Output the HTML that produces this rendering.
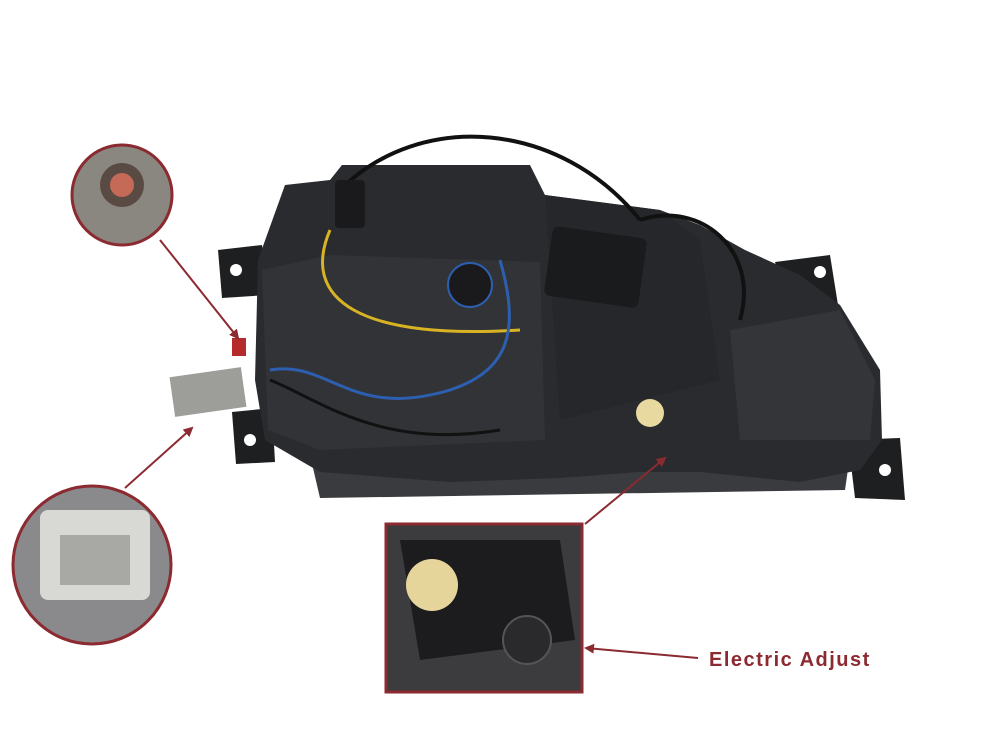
<!DOCTYPE html>
<html><head><meta charset="utf-8"><style>
html,body{margin:0;padding:0;background:#fff;width:1000px;height:750px;overflow:hidden}
svg{display:block}
</style></head><body>
<svg width="1000" height="750" viewBox="0 0 1000 750" xmlns="http://www.w3.org/2000/svg">
<defs>
<marker id="ah" markerWidth="10" markerHeight="10" refX="8" refY="5" orient="auto" markerUnits="userSpaceOnUse">
<path d="M0,0 L10,5 L0,10 z" fill="#8b2a30"/></marker>
<clipPath id="c1"><circle cx="122" cy="195" r="50"/></clipPath>
<clipPath id="c2"><circle cx="92" cy="565" r="79"/></clipPath>
</defs>
<rect width="1000" height="750" fill="#fff"/>
<path d="M218,250 L262,245 L268,295 L222,298 Z" fill="#1e1f21"/>
<circle cx="236" cy="270" r="6" fill="#fff"/>
<path d="M232,412 L272,408 L275,462 L236,464 Z" fill="#1e1f21"/>
<circle cx="250" cy="440" r="6" fill="#fff"/>
<path d="M775,262 L830,255 L838,305 L790,310 Z" fill="#1e1f21"/>
<circle cx="820" cy="272" r="6" fill="#fff"/>
<path d="M848,440 L900,438 L905,500 L855,498 Z" fill="#1e1f21"/>
<circle cx="885" cy="470" r="6" fill="#fff"/>
<path d="M310,455 L850,455 L845,490 L320,498 Z" fill="#3a3b3e"/>
<path d="M258,260 L285,185 L330,180 L342,165 L530,165 L545,195 L660,210 L700,225 L745,250 L800,275 L840,305 L880,370 L882,440 L860,470 L800,482 L700,472 L640,472 L560,478 L450,482 L320,472 L265,440 L255,380 Z" fill="#2a2b2e"/>
<path d="M262,270 L330,255 L540,262 L545,440 L320,450 L268,430 Z" fill="#323337"/>
<path d="M545,195 L660,210 L700,240 L720,380 L560,420 Z" fill="#26272a"/>
<path d="M730,330 L840,310 L875,380 L870,440 L740,440 Z" fill="#343538"/>
<rect x="548" y="232" width="95" height="70" rx="6" fill="#1a1b1d" transform="rotate(8 595 267)"/>
<path d="M340,190 C420,110 560,120 640,220" stroke="#111" stroke-width="4" fill="none"/>
<path d="M640,220 C700,200 760,250 740,320" stroke="#111" stroke-width="4" fill="none"/>
<path d="M330,230 C300,300 360,340 520,330" stroke="#d8b425" stroke-width="3" fill="none"/>
<path d="M270,370 C330,360 350,420 450,390 C510,370 520,330 500,260" stroke="#2d5fb0" stroke-width="3" fill="none"/>
<path d="M270,380 C320,400 380,450 500,430" stroke="#111" stroke-width="3" fill="none"/>
<circle cx="470" cy="285" r="22" fill="#1a1a1c" stroke="#2d5fb0" stroke-width="2"/>
<circle cx="650" cy="413" r="14" fill="#e8d9a0"/>
<rect x="335" y="180" width="30" height="48" rx="4" fill="#1a1a1c"/>
<rect x="172" y="372" width="72" height="40" fill="#9d9e9a" transform="rotate(-8 208 392)"/>
<rect x="232" y="338" width="14" height="18" fill="#b52a2a"/>
<g clip-path="url(#c1)"><rect x="70" y="140" width="110" height="110" fill="#8a8680"/><circle cx="122" cy="185" r="22" fill="#5a4a44"/><circle cx="122" cy="185" r="12" fill="#c46a56"/></g>
<circle cx="122" cy="195" r="50" fill="none" stroke="#8b2a30" stroke-width="3"/>
<g clip-path="url(#c2)"><rect x="10" y="485" width="170" height="170" fill="#8a8a8c"/><rect x="40" y="510" width="110" height="90" rx="8" fill="#d8d8d4"/><rect x="60" y="535" width="70" height="50" fill="#a8a8a4"/></g>
<circle cx="92" cy="565" r="79" fill="none" stroke="#8b2a30" stroke-width="3"/>
<rect x="386" y="524" width="196" height="168" fill="#3c3c3e" stroke="#8b2a30" stroke-width="3"/>
<path d="M400,540 L560,540 L575,640 L420,660 Z" fill="#1c1c1e"/>
<circle cx="432" cy="585" r="26" fill="#e6d59a"/>
<circle cx="527" cy="640" r="24" fill="#2a2a2c" stroke="#555" stroke-width="2"/>
<line x1="160" y1="240" x2="238" y2="338" stroke="#8b2a30" stroke-width="2" marker-end="url(#ah)"/>
<line x1="125" y1="488" x2="192" y2="428" stroke="#8b2a30" stroke-width="2" marker-end="url(#ah)"/>
<line x1="585" y1="524" x2="665" y2="458" stroke="#8b2a30" stroke-width="2" marker-end="url(#ah)"/>
<line x1="698" y1="658" x2="586" y2="648" stroke="#8b2a30" stroke-width="2" marker-end="url(#ah)"/>
<text x="709" y="666" font-family="Liberation Sans, sans-serif" font-weight="bold" font-size="20" letter-spacing="1.5" fill="#8b2a30">Electric Adjust</text>
</svg>
</body></html>
